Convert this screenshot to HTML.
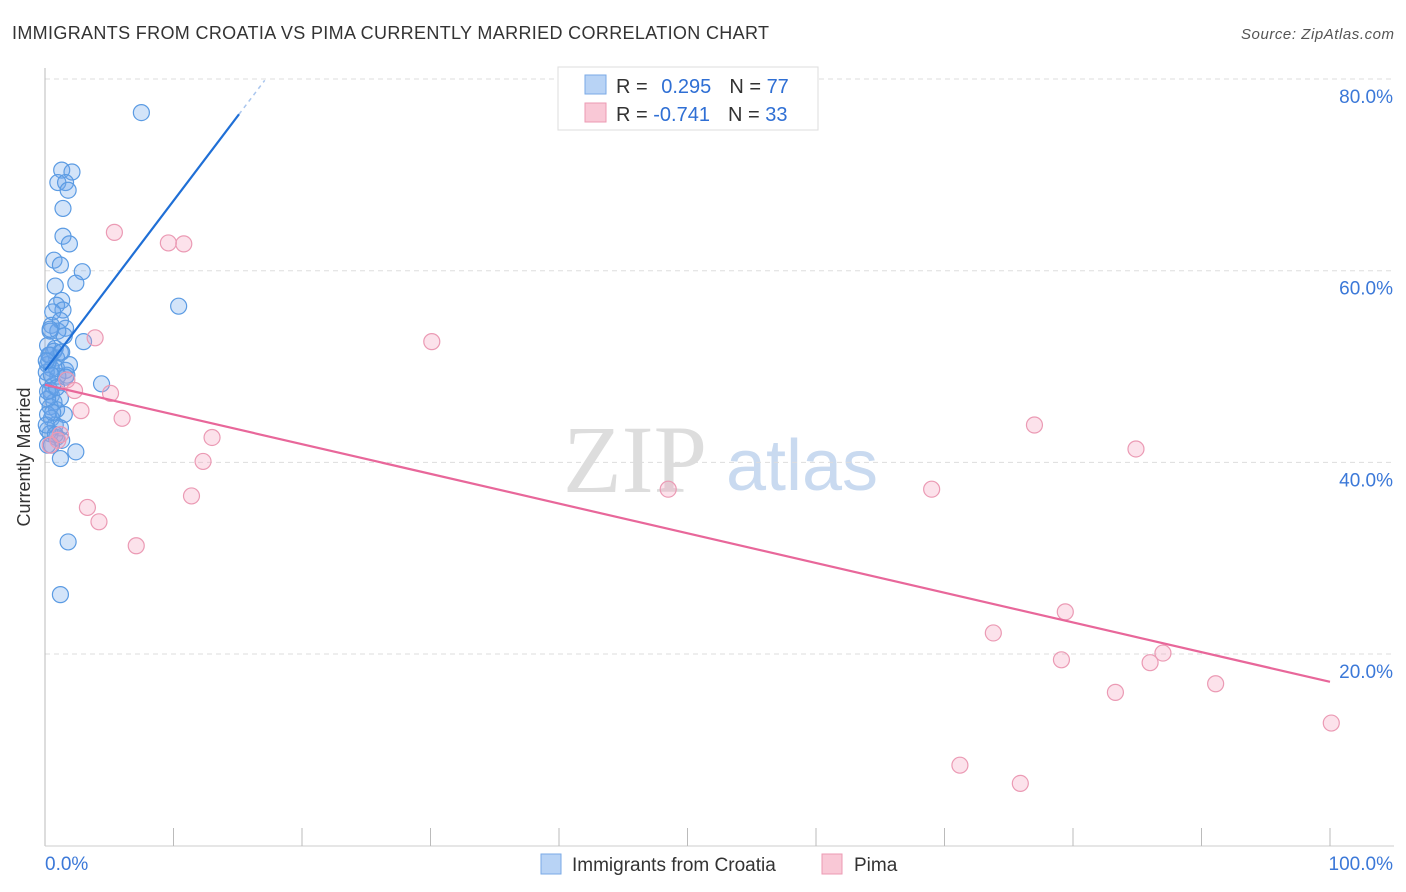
<!DOCTYPE html>
<html><head><meta charset="utf-8"><style>
body{margin:0;background:#fff;font-family:"Liberation Sans",sans-serif;}
svg{display:block}
</style></head><body>
<svg id="chart" width="1406" height="892" xmlns="http://www.w3.org/2000/svg">
<text x="12" y="39" font-size="18" fill="#333" textLength="757">IMMIGRANTS FROM CROATIA VS PIMA CURRENTLY MARRIED CORRELATION CHART</text>
<text x="1394" y="39" font-size="15" fill="#555" font-style="italic" text-anchor="end" textLength="153">Source: ZipAtlas.com</text>
<g>
<text x="635" y="492" font-size="96" font-family="Liberation Serif,serif" fill="#ddd" text-anchor="middle">ZIP</text>
<text x="802" y="490" font-size="72" fill="#c9daf0" text-anchor="middle">atlas</text>
</g>
<g id="grid"></g>
<g id="axes"></g>
<g id="marks"></g>
<g>
<rect x="558" y="67" width="260" height="63" fill="#fff" stroke="#ddd"/>
<rect x="585" y="75" width="21" height="19" fill="#b8d3f5" stroke="#7aaae6"/>
<rect x="585" y="103" width="21" height="19" fill="#f9c8d6" stroke="#ec9ab3"/>
<text x="616" y="93" font-size="20" fill="#333">R = <tspan fill="#2f6fd4" dx="8">0.295</tspan><tspan fill="#333" dx="18">N = </tspan><tspan fill="#2f6fd4">77</tspan></text>
<text x="616" y="121" font-size="20" fill="#333">R = <tspan fill="#2f6fd4">-0.741</tspan><tspan fill="#333" dx="18">N = </tspan><tspan fill="#2f6fd4">33</tspan></text>
</g>
<g>
<rect x="541" y="854" width="20" height="20" fill="#b8d3f5" stroke="#7aaae6"/>
<text x="572" y="871" font-size="19" fill="#333">Immigrants from Croatia</text>
<rect x="822" y="854" width="20" height="20" fill="#f9c8d6" stroke="#ec9ab3"/>
<text x="854" y="871" font-size="19" fill="#333">Pima</text>
</g>
<text x="30" y="457" font-size="18" fill="#333" transform="rotate(-90 30 457)" text-anchor="middle">Currently Married</text>
</svg>
<script>
const blueX=[7.5,1.3,2.1,1.0,1.6,1.8,1.4,1.4,1.9,0.7,1.2,2.9,0.8,2.4,1.3,0.9,1.4,0.6,0.5,1.6,1.5,3.0,10.4,0.8,1.2,0.4,0.9,0.2,0.5,1.6,1.7,0.2,4.4,0.5,0.7,1.2,0.4,0.9,1.5,0.5,0.8,0.2,1.2,0.4,0.9,1.3,2.4,1.2,1.8,1.2,0.2,0.4,0.6,1.0,0.1,0.3,0.7,1.0,1.2,0.4,0.2,0.1,0.5,0.8,0.2,0.3,0.9,0.5,1.3,1.9,0.6,0.2,0.9,0.1,0.4,1.6,0.2];
const blueY=[76.5,70.5,70.3,69.2,69.2,68.4,66.5,63.6,62.8,61.1,60.6,59.9,58.4,58.7,56.9,56.4,55.9,55.7,54.3,54.0,53.2,52.6,56.3,51.9,51.5,51.2,50.9,50.2,49.8,49.6,49.1,48.6,48.2,47.0,46.3,46.7,45.8,45.5,45.0,44.6,43.9,43.4,43.6,43.0,42.6,42.3,41.1,40.4,31.7,26.2,52.2,47.5,48.0,49.0,49.4,50.6,51.6,53.7,54.8,53.7,45.0,43.9,41.8,42.9,46.6,51.2,49.8,49.1,51.5,50.2,45.2,47.4,47.8,50.6,53.9,48.9,41.8];
const pinkX=[5.4,9.6,10.8,3.9,30.1,1.7,5.1,2.3,2.8,6.0,13.0,12.3,3.3,11.4,4.2,7.1,48.5,69.0,77.0,84.9,73.8,79.4,79.1,86.0,87.0,83.3,91.1,100.1,71.2,75.9,1.0,0.4,1.2];
const pinkY=[64.0,62.9,62.8,53.0,52.6,48.6,47.2,47.5,45.4,44.6,42.6,40.1,35.3,36.5,33.8,31.3,37.2,37.2,43.9,41.4,22.2,24.4,19.4,19.1,20.1,16.0,16.9,12.8,8.4,6.5,42.3,41.8,42.9];
const blueTrend=[49.6,1.77];
const pinkTrend=[48.1,-0.31];
const yTicks=[20,40,60,80];
const xTickLabels=["0.0%","100.0%"];
const NS="http://www.w3.org/2000/svg";
const xs=v=>45+v*12.85;
const ys=v=>845.7-v*9.583;
function mk(tag,attrs,parent){const e=document.createElementNS(NS,tag);for(const k in attrs)e.setAttribute(k,attrs[k]);document.getElementById(parent).appendChild(e);return e;}
yTicks.forEach(t=>{
 const l=mk('line',{x1:45,x2:1394,y1:ys(t),y2:ys(t),stroke:'#ddd','stroke-dasharray':'5,4'},'grid');
 
 
 const tx=mk('text',{x:1393,y:ys(t)+24,'font-size':19,fill:'#3b78d8','text-anchor':'end'},'grid');
 tx.textContent=t.toFixed(1)+'%';
 
 
});
const ax=mk('line',{x1:45,x2:45,y1:68,y2:846,stroke:'#bbb'},'axes');


const bx=mk('line',{x1:45,x2:1394,y1:846,y2:846,stroke:'#ccc'},'axes');


for(let i=1;i<=10;i++){
 const t=mk('line',{x1:xs(i*10),x2:xs(i*10),y1:828,y2:846,stroke:'#bbb'},'axes');
 
 
}
const l0=mk('text',{x:45,y:870,'font-size':19,fill:'#3b78d8'},'axes');l0.textContent=xTickLabels[0];


const l1=mk('text',{x:1393,y:870,'font-size':19,fill:'#3b78d8','text-anchor':'end'},'axes');l1.textContent=xTickLabels[1];


blueX.forEach((x,i)=>{
 const c=mk('circle',{cx:xs(x),cy:ys(blueY[i]),r:8,fill:'rgba(110,165,235,0.3)',stroke:'#5b9be3','stroke-width':1.2},'marks');
 
 
});
pinkX.forEach((x,i)=>{
 const c=mk('circle',{cx:xs(x),cy:ys(pinkY[i]),r:8,fill:'rgba(245,160,190,0.3)',stroke:'#eb9ab4','stroke-width':1.2},'marks');
 
 
});
const bl=mk('line',{x1:xs(0),y1:ys(blueTrend[0]),x2:xs(15.1),y2:ys(blueTrend[0]+blueTrend[1]*15.1),stroke:'#1f6fd6','stroke-width':2.2},'marks');


const bd=mk('line',{x1:xs(15.1),y1:ys(blueTrend[0]+blueTrend[1]*15.1),x2:xs(17.1),y2:ys(blueTrend[0]+blueTrend[1]*17.1),stroke:'#aac6ee','stroke-width':1.5,'stroke-dasharray':'4,4'},'marks');


const pl=mk('line',{x1:xs(0),y1:ys(pinkTrend[0]),x2:xs(100),y2:ys(pinkTrend[0]+pinkTrend[1]*100),stroke:'#e8679a','stroke-width':2.2},'marks');


</script>
</body></html>
